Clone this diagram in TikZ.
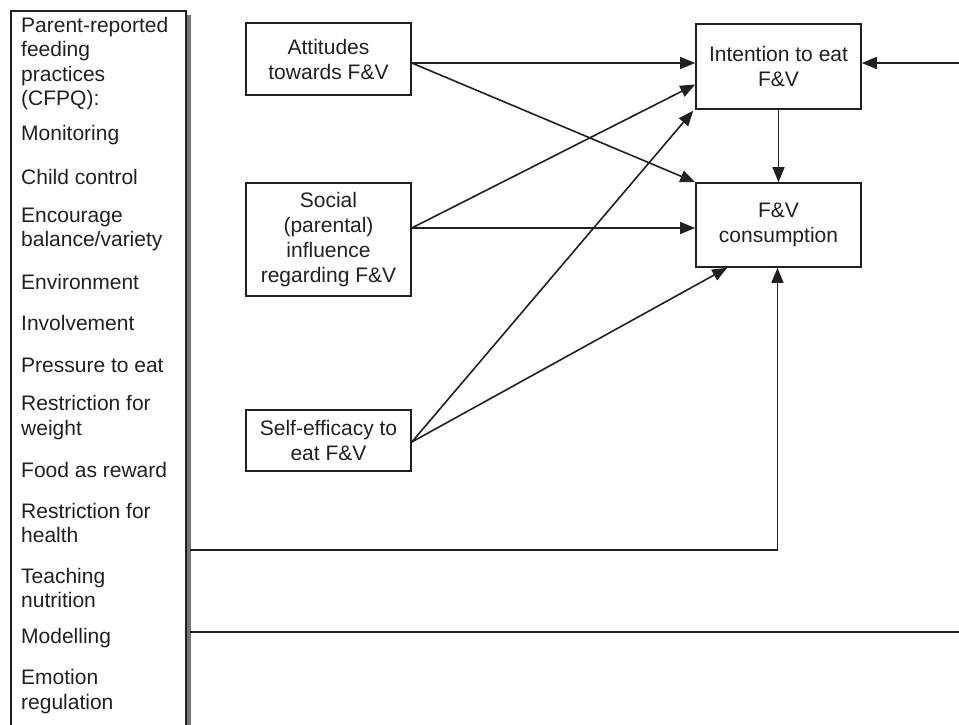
\documentclass[tikz,border=0pt]{standalone}
\usepackage{fontspec}
\setmainfont{Liberation Sans}
\usetikzlibrary{arrows.meta}
\definecolor{ink}{HTML}{231F20}
\begin{document}
\begin{tikzpicture}[x=1pt,y=-1pt,
  every node/.style={text=ink},
  lbl/.style={anchor=west, inner sep=0pt, align=left, font=\fontsize{21}{24.5}\selectfont},
  bx/.style={draw=ink, line width=1.6pt, align=center, inner sep=0pt,
     minimum width=165pt, font=\fontsize{21}{25}\selectfont},
  arr/.style={draw=ink, line width=1.6pt, -{Triangle[length=15pt,width=12pt]}},
  ln/.style={draw=ink, line width=1.6pt}]
\useasboundingbox (0,0) rectangle (959,725);
\begin{scope}
\clip (0,0) rectangle (959,725);
\fill[black!55] (186,15) rectangle (190.5,745);
\node[draw=ink, line width=1.6pt, minimum width=175pt, minimum height=735pt, anchor=north west, inner sep=0pt] (lb) at (10,10) {};
\end{scope}
% left list
\node[lbl] (t0) at (21,63.5) {Parent-reported\\feeding\\practices\\(CFPQ):};
\node[lbl] (t1) at (21,135) {Monitoring};
\node[lbl] (t2) at (21,177) {Child control};
\node[lbl] (t3) at (21,229.5) {Encourage\\balance/variety};
\node[lbl] (t4) at (21,282) {Environment};
\node[lbl] (t5) at (21,323) {Involvement};
\node[lbl] (t6) at (21,365) {Pressure to eat};
\node[lbl] (t7) at (21,417.5) {Restriction for\\weight};
\node[lbl] (t8) at (21,470) {Food as reward};
\node[lbl] (t9) at (21,523) {Restriction for\\health};
\node[lbl] (t10) at (21,588) {Teaching\\nutrition};
\node[lbl] (t11) at (21,638) {Modelling};
\node[lbl] (t12) at (21,691.5) {Emotion\\regulation};
% boxes
\node[bx, minimum height=72pt] (att) at (328.5,59) {Attitudes\\towards F\&V};
\node[bx, minimum height=113pt] (soc) at (328.5,239.5) {Social\\(parental)\\influence\\regarding F\&V};
\node[bx, minimum height=61pt] (self) at (328.5,440.5) {Self-efficacy to\\eat F\&V};
\node[bx, minimum height=85pt] (int) at (778.5,66.5) {Intention to eat\\F\&V};
\node[bx, minimum height=84pt] (con) at (778.5,225) {F\&V\\consumption};
\coordinate (rin) at (959,63);
\coordinate (rout) at (959,632);
% arrows
\draw[arr] ([yshift=-4pt]att.east) -- ([yshift=3.5pt]int.west);
\draw[arr] ([yshift=-4pt]att.east) -- (con.north west);
\draw[arr] ([yshift=11.5pt]soc.west -| soc.east) -- ([yshift=-18pt]int.west);
\draw[arr] ([yshift=11.5pt]soc.west -| soc.east) -- ([yshift=-3pt]con.west);
\draw[arr] ([yshift=-1.5pt]self.east) -- ([xshift=-2pt,yshift=-1pt]int.south west);
\draw[arr] ([yshift=-1.5pt]self.east) -- ([xshift=32pt]con.south west);
\draw[arr] (int.south) -- (con.south |- con.north);
\draw[arr] (rin) -- (int.east |- rin);
\draw[arr] (190,550) -| ([xshift=-1pt]con.south);
\draw[ln] (190,632) -- (rout);
\end{tikzpicture}
\end{document}
